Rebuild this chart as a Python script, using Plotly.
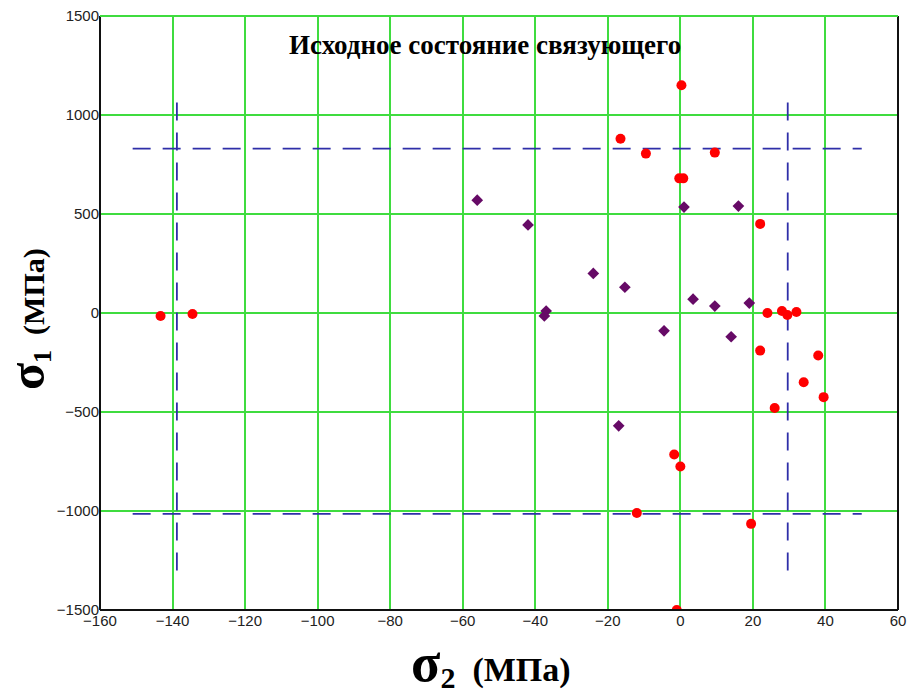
import plotly.graph_objects as go

# Data
red_s2 = [0.3, -16.5, -9.5, 9.5, -0.3, 0.8, 22, 24, 28, 29.5, 32, 22, 38, 34, 39.5, 26,
          -1.7, 0, -12, 19.5, -1, -143.3, -134.5]
red_s1 = [1150, 880, 805, 810, 680, 680, 450, 0, 10, -10, 5, -190, -215, -350, -425, -480,
          -715, -775, -1010, -1065, -1500, -15, -5]

purple_s2 = [-56, -42, -24, -15.3, -37, -37.5, -17, 1, 16, 3.5, 9.5, 19, -4.5, 14]
purple_s1 = [570, 445, 200, 130, 10, -15, -570, 535, 540, 70, 35, 50, -90, -120]

# Limit (dashed) lines
limit_s2 = [-138.8, 29.6]          # vertical lines at these sigma2
limit_s1 = [830, -1015]            # horizontal lines at these sigma1
limit_s2_span = [-151, 50]         # extent of horizontal lines
limit_s1_span = [-1300, 1120]      # extent of vertical lines

x_ticks = [-160, -140, -120, -100, -80, -60, -40, -20, 0, 20, 40, 60]
y_ticks = [-1500, -1000, -500, 0, 500, 1000, 1500]

title_text = "Исходное состояние связующего"

fig = go.Figure()

dash_color = "#2f2fa8"
for xv in limit_s2:
    fig.add_trace(go.Scatter(x=[xv, xv], y=limit_s1_span, mode="lines",
                             line=dict(color=dash_color, width=1.8, dash="18px,12px"),
                             hoverinfo="skip", showlegend=False))
for yv in limit_s1:
    fig.add_trace(go.Scatter(x=limit_s2_span, y=[yv, yv], mode="lines",
                             line=dict(color=dash_color, width=1.8, dash="18px,12px"),
                             hoverinfo="skip", showlegend=False))

fig.add_trace(go.Scatter(x=purple_s2, y=purple_s1, mode="markers",
                         marker=dict(symbol="diamond", size=9, color="#660a66"),
                         showlegend=False))
fig.add_trace(go.Scatter(x=red_s2, y=red_s1, mode="markers",
                         marker=dict(symbol="circle", size=10, color="#ff0000"),
                         showlegend=False))

grid_color = "#3fdc3f"
fig.update_xaxes(range=[-160, 60], tickvals=x_ticks, showgrid=True, gridcolor=grid_color,
                 gridwidth=1.5, zeroline=False, showline=False, ticks="", automargin=False,
                 tickfont=dict(family="Liberation Sans", size=15, color="#222222"))
fig.update_yaxes(range=[-1500, 1500], tickvals=y_ticks, showgrid=True, gridcolor=grid_color,
                 gridwidth=1.5, zeroline=False, showline=False, ticks="", automargin=False,
                 tickfont=dict(family="Liberation Sans", size=15, color="#222222"))

# frame: left, bottom, right black; top green
frame = [
    dict(x0=0, x1=0, y0=0, y1=1, color="#111111"),
    dict(x0=0, x1=1, y0=0, y1=0, color="#111111"),
    dict(x0=1, x1=1, y0=0, y1=1, color="#111111"),
    dict(x0=0, x1=1, y0=1, y1=1, color=grid_color),
]
for f in frame:
    fig.add_shape(type="line", xref="paper", yref="paper", x0=f["x0"], x1=f["x1"],
                  y0=f["y0"], y1=f["y1"], line=dict(color=f["color"], width=2))

fig.add_annotation(text="<b>" + title_text + "</b>", xref="paper", yref="paper",
                   x=0.4825, y=0.952, xanchor="center", yanchor="middle", showarrow=False,
                   font=dict(family="Liberation Serif", size=27, color="#000000"))

fig.add_annotation(text="<b><span style='font-size:54px'>σ</span><sub><span style='font-size:30px'>2</span></sub>  (МПа)</b>",
                   xref="paper", yref="paper", x=0.49, y=-0.09, xanchor="center",
                   yanchor="middle", showarrow=False,
                   font=dict(family="Liberation Serif", size=34, color="#000000"))

fig.add_annotation(text="<b><span style='font-size:50px'>σ</span><sub><span style='font-size:26px'>1</span></sub>  (МПа)</b>",
                   xref="paper", yref="paper", x=-0.09, y=0.49, xanchor="center",
                   yanchor="middle", textangle=-90, showarrow=False,
                   font=dict(family="Liberation Serif", size=30, color="#000000"))

fig.update_layout(width=910, height=694, margin=dict(l=100, r=12, t=16, b=84),
                  paper_bgcolor="white", plot_bgcolor="white", showlegend=False)

fig.write_html("out.html")
